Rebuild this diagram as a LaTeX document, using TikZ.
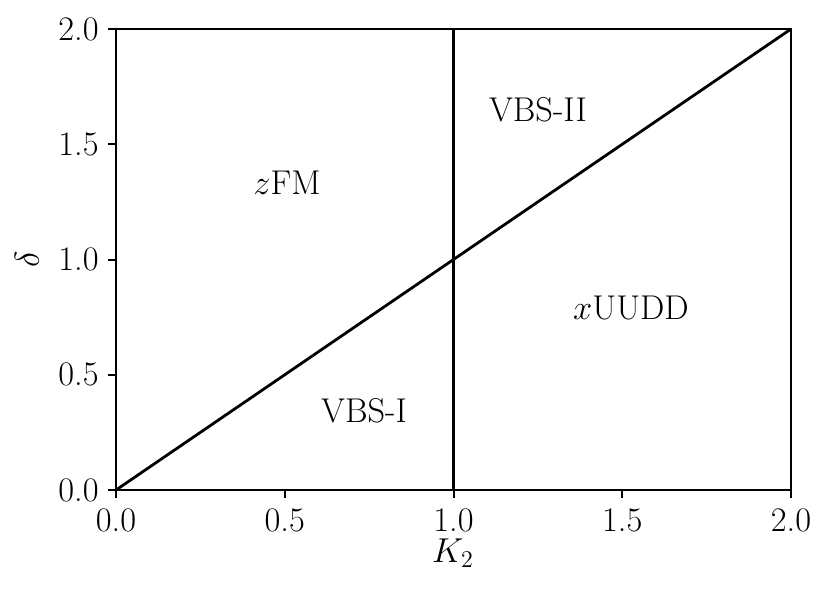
\documentclass[tikz,border=0pt]{standalone}
\begin{document}
\begin{tikzpicture}[x=0.5pt,y=-0.5pt,
  lbl/.style={font=\fontsize{17.2}{20}\selectfont, inner sep=0pt},
  spine/.style={line width=1.1pt},
  dataline/.style={line width=1.4pt},
  tick/.style={line width=1pt}]
\useasboundingbox (0,0) rectangle (830,594);
% axes frame
\coordinate (bl) at (116,490);
\coordinate (tr) at (791,29);
\draw[spine] (bl) rectangle (tr);
% x ticks
\foreach \v/\t/\n in {0/0.0/a,0.5/0.5/b,1/1.0/c,1.5/1.5/d,2/2.0/e}{
  \coordinate (xt\n) at ({116+337.5*\v},490);
  \draw[tick] (xt\n) -- ++(0,8);
  \node[lbl, anchor=center] (xl\n) at ({116+337.5*\v},520) {\t};
}
% y ticks
\foreach \v/\t/\n in {0/0.0/a,0.5/0.5/b,1/1.0/c,1.5/1.5/d,2/2.0/e}{
  \coordinate (yt\n) at (116,{490-230.5*\v});
  \draw[tick] (yt\n) -- ++(-8,0);
  \node[lbl, anchor=east] (yl\n) at (99,{490-230.5*\v}) {\t};
}
% axis labels
\node[lbl] (xlab) at (453,553) {$K_2$};
\node[lbl, rotate=90] (ylab) at (27,259) {$\delta$};
% data lines
\coordinate (o) at (116,490);
\coordinate (e) at (791,29);
\coordinate (v0) at (453.5,490);
\coordinate (v1) at (453.5,29);
\draw[dataline] (o) -- (e);
\draw[dataline] (v0) -- (v1);
% region labels
\node[lbl] (zfm) at (287,183) {$z$FM};
\node[lbl] (vbs2) at (538,110) {VBS-II};
\node[lbl] (xuudd) at (631,308) {$x$UUDD};
\node[lbl] (vbs1) at (364,411) {VBS-I};
\end{tikzpicture}
\end{document}
